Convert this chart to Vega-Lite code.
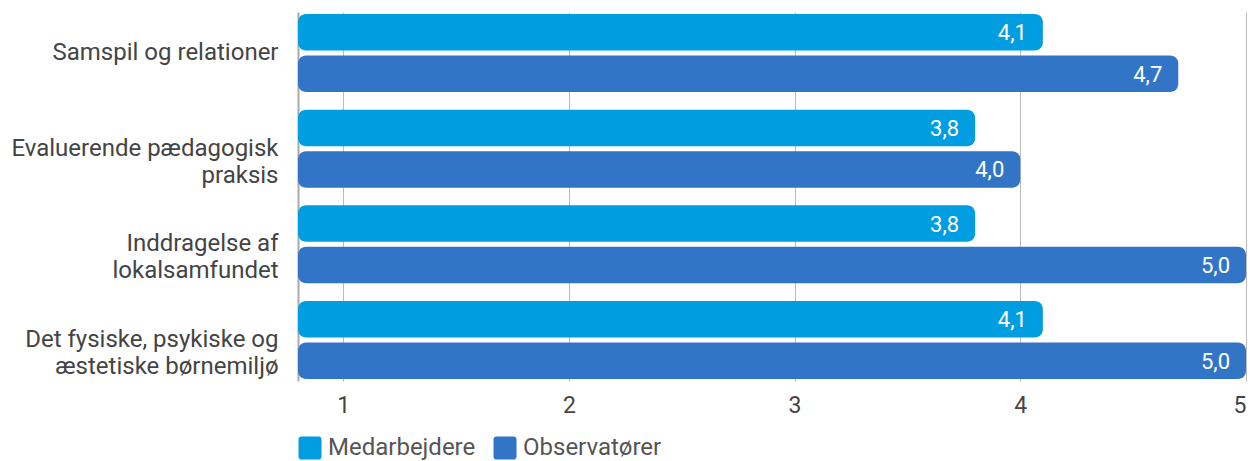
{
  "$schema": "https://vega.github.io/schema/vega-lite/v6.json",
  "autosize": "none",
  "width": 948,
  "height": 369,
  "padding": {"left": 298, "top": 12, "right": 6, "bottom": 80},
  "config": {
    "font": "Roboto",
    "view": {"stroke": null},
    "locale": {
      "number": {"decimal": ",", "thousands": ".", "grouping": [3], "currency": ["", " kr."]}
    }
  },
  "data": {
    "values": [
      {"omraade": "Samspil og relationer", "gruppe": "Medarbejdere", "score": 4.1},
      {"omraade": "Samspil og relationer", "gruppe": "Observatører", "score": 4.7},
      {"omraade": "Evaluerende pædagogisk praksis", "gruppe": "Medarbejdere", "score": 3.8},
      {"omraade": "Evaluerende pædagogisk praksis", "gruppe": "Observatører", "score": 4.0},
      {"omraade": "Inddragelse af lokalsamfundet", "gruppe": "Medarbejdere", "score": 3.8},
      {"omraade": "Inddragelse af lokalsamfundet", "gruppe": "Observatører", "score": 5.0},
      {"omraade": "Det fysiske, psykiske og æstetiske børnemiljø", "gruppe": "Medarbejdere", "score": 4.1},
      {"omraade": "Det fysiske, psykiske og æstetiske børnemiljø", "gruppe": "Observatører", "score": 5.0}
    ]
  },
  "encoding": {
    "y": {
      "field": "omraade",
      "type": "nominal",
      "sort": null,
      "scale": {"paddingInner": 0.185, "paddingOuter": 0.02},
      "axis": {
        "title": null,
        "ticks": false,
        "domain": true,
        "domainColor": "#aaaaaa",
        "domainWidth": 2,
        "labelFontSize": 24,
        "labelColor": "#444444",
        "labelPadding": 20,
        "labelLimit": 300,
        "labelLineHeight": 27,
        "labelExpr": "datum.value == 'Evaluerende pædagogisk praksis' ? ['Evaluerende pædagogisk', 'praksis'] : datum.value == 'Inddragelse af lokalsamfundet' ? ['Inddragelse af', 'lokalsamfundet'] : datum.value == 'Det fysiske, psykiske og æstetiske børnemiljø' ? ['Det fysiske, psykiske og', 'æstetiske børnemiljø'] : datum.value"
      }
    },
    "yOffset": {
      "field": "gruppe",
      "type": "nominal",
      "scale": {"paddingInner": 0.12, "paddingOuter": 0}
    }
  },
  "layer": [
    {
      "mark": {"type": "bar", "cornerRadiusEnd": 8},
      "encoding": {
        "x": {
          "field": "score",
          "type": "quantitative",
          "scale": {"domain": [0.8, 5], "zero": false, "nice": false},
          "axis": {
            "title": null,
            "values": [1, 2, 3, 4, 5],
            "grid": true,
            "gridColor": "#bbbbbb",
            "domain": false,
            "ticks": false,
            "labelFontSize": 23,
            "labelColor": "#444444",
            "labelPadding": 13,
            "format": "d"
          }
        },
        "x2": {"datum": 0.8},
        "color": {
          "field": "gruppe",
          "type": "nominal",
          "scale": {"domain": ["Medarbejdere", "Observatører"], "range": ["#009ee0", "#3275c6"]},
          "legend": {
            "title": null,
            "orient": "none",
            "legendX": 0,
            "legendY": 424,
            "direction": "horizontal",
            "symbolType": "M -0.75 -1 H 0.75 A 0.25 0.25 0 0 1 1 -0.75 V 0.75 A 0.25 0.25 0 0 1 0.75 1 H -0.75 A 0.25 0.25 0 0 1 -1 0.75 V -0.75 A 0.25 0.25 0 0 1 -0.75 -1 Z",
            "symbolSize": 529,
            "symbolStrokeWidth": 0,
            "symbolOpacity": 1,
            "labelFontSize": 24,
            "labelColor": "#555555",
            "labelOffset": 6,
            "columnPadding": 17
          }
        }
      }
    },
    {
      "mark": {"type": "text", "align": "right", "baseline": "middle", "dx": -16, "dy": 1, "fontSize": 22, "color": "white"},
      "encoding": {
        "x": {"field": "score", "type": "quantitative"},
        "text": {"field": "score", "type": "quantitative", "format": ".1f"}
      }
    }
  ]
}
